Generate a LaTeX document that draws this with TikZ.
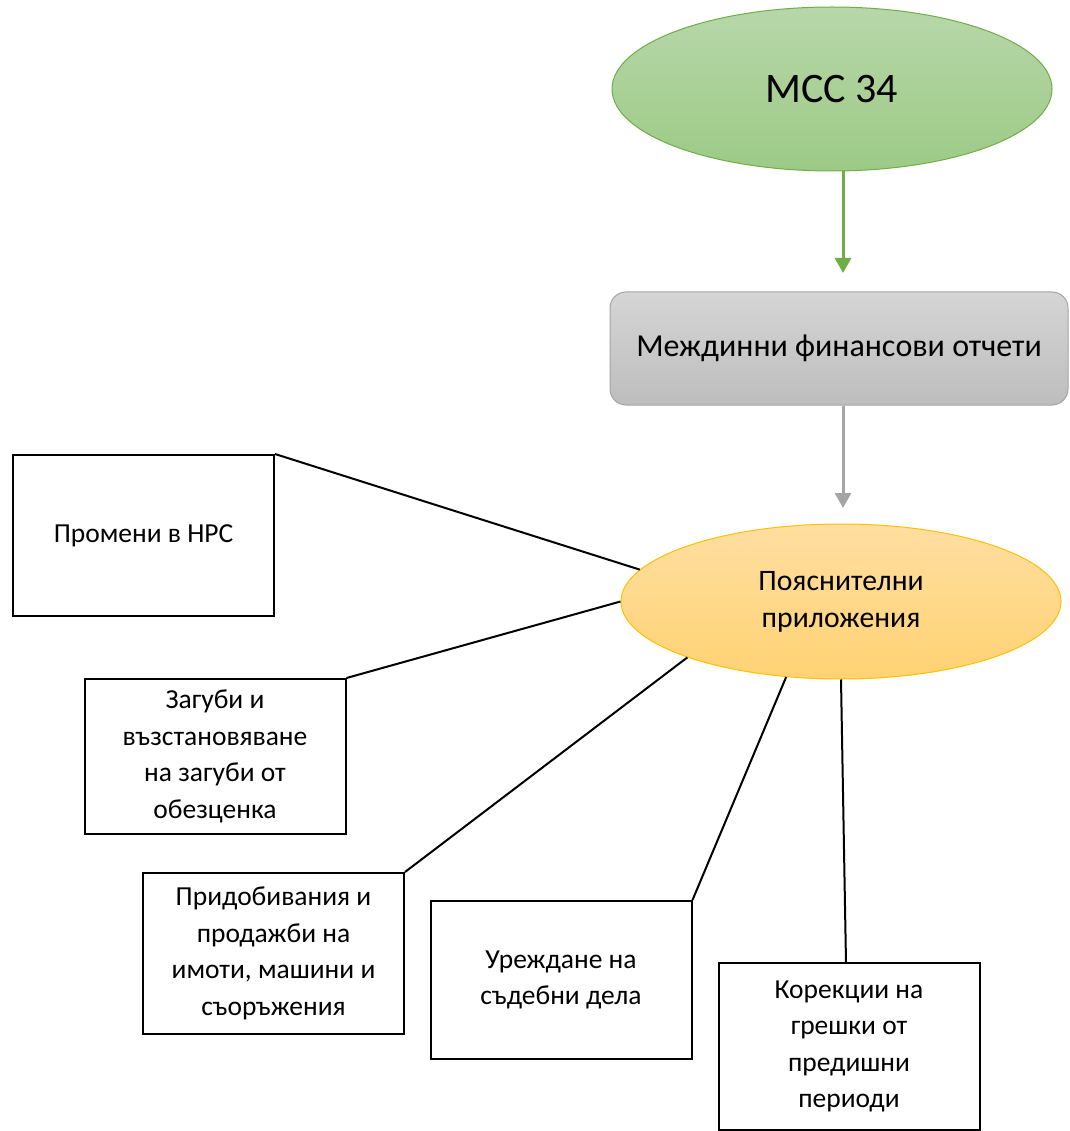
\documentclass[tikz,border=0pt]{standalone}
\usepackage{fontspec}
\setmainfont{Carlito}
\usetikzlibrary{shapes.geometric,arrows.meta}
\definecolor{greenb}{HTML}{70AD47}
\definecolor{greent}{HTML}{B7D7A9}
\definecolor{greenbot}{HTML}{9DCA86}
\definecolor{grayb}{HTML}{A5A5A5}
\definecolor{grayt}{HTML}{D5D5D5}
\definecolor{graybot}{HTML}{BDBDBD}
\definecolor{orb}{HTML}{FFC000}
\definecolor{ort}{HTML}{FFDEA0}
\definecolor{orbot}{HTML}{FFD273}
\begin{document}
\begin{tikzpicture}[x=1pt,y=-1pt,
  box/.style={draw=black, line width=2pt, fill=white, inner sep=4pt, align=center,
    minimum width=261, font=\fontsize{27.5}{36.5}\selectfont},
  conn/.style={draw=black, line width=2pt},
  bigarrow/.style={line width=3pt, -{Triangle[width=16pt,length=15pt]}}]
\fill[white] (0,0) rectangle (1069,1131);
\useasboundingbox (0,0) rectangle (1069,1131);

\node[ellipse, draw=greenb, line width=1pt, top color=greent, bottom color=greenbot,
  minimum width=440, minimum height=164, inner sep=0pt,
  font=\fontsize{42}{50}\selectfont] (g) at (832,89) {МСС 34};

\node[rectangle, rounded corners=16pt, draw=grayb, line width=1pt, top color=grayt, bottom color=graybot,
  minimum width=458, minimum height=113, inner sep=0pt,
  font=\fontsize{32}{38}\selectfont] (m) at (839,348.5) {Междинни финансови отчети};

\node[ellipse, draw=orb, line width=1pt, top color=ort, bottom color=orbot,
  minimum width=440, minimum height=155, inner sep=0pt, align=center,
  font=\fontsize{29.7}{37}\selectfont] (p) at (841,601.5) {Пояснителни\\приложения};

\coordinate (gt) at (843,273);
\draw[bigarrow, greenb] (g.south -| gt) -- (gt);
\coordinate (gy) at (843,508);
\draw[bigarrow, grayb] (m.south -| gy) -- (gy);

\node[box, minimum height=161] (b1) at (143.5,535.5) {Промени в НРС};
\node[box, minimum height=155] (b2) at (215,756.5) {Загуби и\\възстановяване\\на загуби от\\обезценка};
\node[box, minimum height=161] (b3) at (273.5,953.5) {Придобивания и\\продажби на\\имоти, машини и\\съоръжения};
\node[box, minimum height=158] (b4) at (561,980) {Уреждане на\\съдебни дела};
\node[box, minimum height=167] (b5) at (849,1046.5) {Корекции на\\грешки от\\предишни\\периоди};

\coordinate (c5) at (846,963);
\draw[conn] (b1.north east) -- (p.171.8);
\draw[conn] (b2.north east) -- (p.180.8);
\draw[conn] (b3.north east) -- (p.200.1);
\draw[conn] (b4.north east) -- (p.234.2);
\draw[conn] (c5) -- (p.270);
\end{tikzpicture}
\end{document}
